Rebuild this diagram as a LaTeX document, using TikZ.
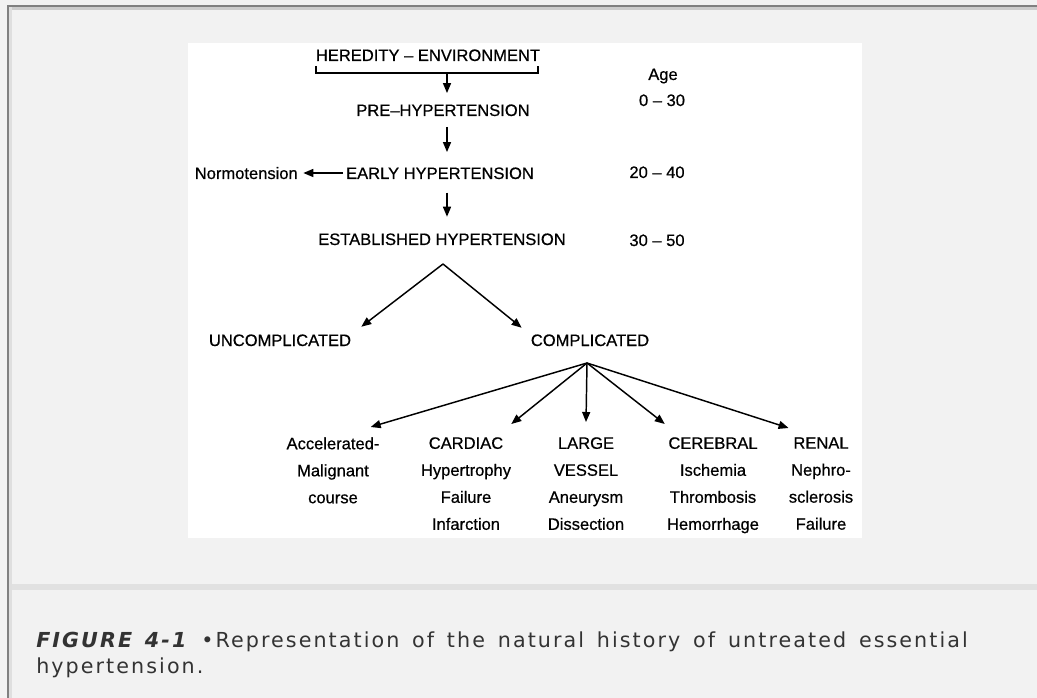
\documentclass[tikz,border=0pt]{standalone}
\usepackage{fontspec}
\setmainfont{Liberation Sans}[FakeBold=0.6]
\newfontfamily\capfont{DejaVu Sans}[LetterSpace=10]
\usetikzlibrary{arrows.meta}

\definecolor{pagegray}{HTML}{F2F2F2}
\definecolor{rulegray}{HTML}{808080}
\definecolor{bandgray}{HTML}{E1E1E1}
\definecolor{captext}{HTML}{333333}

\tikzset{
  lbl/.style={font=\fontsize{12.4}{20.25}\selectfont, inner sep=0pt, text height=9pt, text depth=0pt},
  col/.style={font=\fontsize{12.4}{20.25}\selectfont, inner sep=0pt, align=center, anchor=north},
  arr/.style={line width=1.1pt, -{Triangle[length=7.5pt,width=6pt]}},
}

\begin{document}
\begin{tikzpicture}[x=0.75pt, y=-0.75pt]
  \useasboundingbox (0,0) rectangle (1037,698);

  % page and panel
  \fill[pagegray] (0,0) rectangle (1037,698);
  \fill[white] (188,43) rectangle (862,538);
  \fill[bandgray] (9,584) rectangle (1037,590);
  \fill[gray!40] (9,7.3) rectangle (1037,9.8);
  \fill[gray!25] (9.3,7.3) rectangle (11.5,698);
  \fill[rulegray] (7,5) rectangle (1037,7.3);
  \fill[rulegray] (7,5) rectangle (9.3,698);

  % main chain
  \node[lbl] (here) at (428,55) {HEREDITY – ENVIRONMENT};
  \node[lbl] (pre) at (443,110) {PRE–HYPERTENSION};
  \node[lbl] (early) at (440,173) {EARLY HYPERTENSION};
  \node[lbl, anchor=east] (normo) at (298,173) {Normotension};
  \node[lbl] (estab) at (442,239) {ESTABLISHED HYPERTENSION};

  % ages
  \node[lbl] (age) at (663,74) {Age};
  \node[lbl] (ageA) at (662,100) {0 – 30};
  \node[lbl] (ageB) at (657,172) {20 – 40};
  \node[lbl] (ageC) at (657,240) {30 – 50};

  \node[lbl] (uncomp) at (280,340) {UNCOMPLICATED};
  \node[lbl] (comp) at (590,340) {COMPLICATED};

  % complications
  \node[col] (acc) at (333,437) {Accelerated-\\Malignant\\course};
  \node[col] (card) at (466,437) {CARDIAC\\Hypertrophy\\Failure\\Infarction};
  \node[col] (ves) at (586,437) {LARGE\\VESSEL\\Aneurysm\\Dissection};
  \node[col] (cereb) at (713,437) {CEREBRAL\\Ischemia\\Thrombosis\\Hemorrhage};
  \node[col] (renal) at (821,437) {RENAL\\Nephro-\\sclerosis\\Failure};

  \coordinate (brk) at (447,73);
  \coordinate (split) at (443,264);
  \coordinate (fan) at (587,363);

  \draw[line width=1pt] (316,66) |- (brk) -| (538,66);
  \draw[arr, shorten >=8pt] (brk) -- (brk |- pre.north);
  \draw[arr, shorten <=8pt, shorten >=11pt] (brk |- pre.south) -- (brk |- early.north);
  \draw[arr, shorten <=2pt, shorten >=4pt] (early.west) -- (normo.east);
  \draw[arr, shorten <=10pt, shorten >=12pt] (brk |- early.south) -- (brk |- estab.north);

  \draw[arr] (split) -- ([shift={(10,-7)}]uncomp.north east);
  \draw[arr] (split) -- ([shift={(-9,-6)}]comp.north west);

  \draw[arr] (fan) -- ([shift={(-9,-10)}]acc.north east);
  \draw[arr] (fan) -- ([shift={(0,-13)}]card.north east);
  \draw[arr] (fan) -- ([shift={(0,-15)}]ves.north);
  \draw[arr] (fan) -- ([shift={(-2,-13)}]cereb.north west);
  \draw[arr] (fan) -- ([shift={(0,-9)}]renal.north west);

  % caption
  \node[anchor=north west, align=left, inner sep=0pt, text=captext,
    font=\capfont\fontsize{15.5}{19.5}\selectfont] (cap) at (36,632)
    {\spaceskip=9.6pt\relax\textbf{\textit{FIGURE 4-1}} •Representation of the natural history of untreated essential\\hypertension.};
\end{tikzpicture}
\end{document}
